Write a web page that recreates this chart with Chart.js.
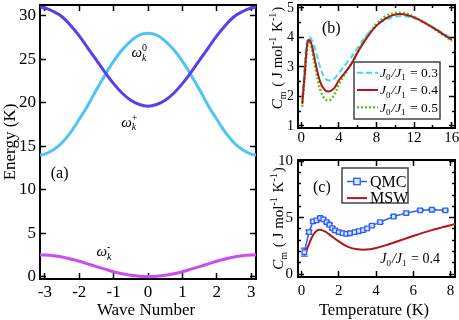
<!DOCTYPE html>
<html>
<head>
<meta charset="utf-8">
<title>Magnon dispersion and specific heat</title>
<script src="https://cdn.jsdelivr.net/npm/chart.js@4.4.1/dist/chart.umd.min.js"></script>
<style>
  html, body { margin: 0; padding: 0; background: #fff; }
  #wrap { position: relative; width: 459px; height: 320px; overflow: hidden; }
  canvas { position: absolute; }
</style>
</head>
<body>
<div id="wrap">
  <canvas id="chartA" width="262" height="320" style="left:0;top:0"></canvas>
  <canvas id="chartB" width="201" height="150" style="left:258px;top:0"></canvas>
  <canvas id="chartC" width="201" height="170" style="left:258px;top:150px"></canvas>
</div>
<script>
// ---- (a) dispersion ----
const waveK = [-3.1416, -3, -2.75, -2.5, -2.25, -2, -1.75, -1.5, -1.25, -1, -0.75, -0.5, -0.25, 0,
  0.25, 0.5, 0.75, 1, 1.25, 1.5, 1.75, 2, 2.25, 2.5, 2.75, 3, 3.1416];
const omegaZero = [14.0, 14.1, 14.6, 15.4, 16.6, 18.1, 19.7, 21.5, 23.2, 24.8, 26.1, 27.1, 27.8, 28.0,
  27.8, 27.1, 26.1, 24.8, 23.2, 21.5, 19.7, 18.1, 16.6, 15.4, 14.6, 14.1, 14.0];
const omegaPlus = [31.0, 30.9, 30.5, 29.9, 28.9, 27.7, 26.3, 24.9, 23.5, 22.2, 21.1, 20.3, 19.8, 19.6,
  19.8, 20.3, 21.1, 22.2, 23.5, 24.9, 26.3, 27.7, 28.9, 29.9, 30.5, 30.9, 31.0];
const omegaMinus = [2.5, 2.49, 2.4, 2.25, 2.03, 1.77, 1.47, 1.16, 0.86, 0.57, 0.34, 0.15, 0.04, 0.0,
  0.04, 0.15, 0.34, 0.57, 0.86, 1.16, 1.47, 1.77, 2.03, 2.25, 2.4, 2.49, 2.5];

// ---- (b) Cm for three J0/J1 ----
const tempB = [0.1, 0.4, 0.6, 0.8, 1.0, 1.25, 1.5, 2.0, 2.5, 3.0, 3.5, 4.0, 5.0, 5.5, 6.0, 7.0, 8.0,
  9.0, 10.0, 11.0, 12.0, 13.0, 14.0, 15.0, 16.0];
const cmJ03 = [1.9, 3.2, 3.85, 4.0, 3.98, 3.82, 3.58, 3.0, 2.62, 2.54, 2.6, 2.8, 3.2, 3.42, 3.65, 4.1, 4.4,
  4.6, 4.7, 4.72, 4.65, 4.52, 4.35, 4.16, 3.97];
const cmJ04 = [1.75, 2.9, 3.7, 3.92, 3.85, 3.55, 3.15, 2.5, 2.22, 2.17, 2.28, 2.55, 2.95, 3.2, 3.5, 4.0, 4.4,
  4.65, 4.78, 4.78, 4.68, 4.52, 4.33, 4.13, 3.92];
const cmJ05 = [1.65, 2.75, 3.6, 3.88, 3.78, 3.4, 2.95, 2.25, 1.92, 1.87, 2.05, 2.4, 2.95, 3.2, 3.5, 4.05, 4.45,
  4.72, 4.83, 4.82, 4.7, 4.52, 4.32, 4.1, 3.88];

// ---- (c) QMC vs MSW at J0/J1 = 0.4 ----
const tempQMC = [0.15, 0.4, 0.62, 0.8, 1.0, 1.17, 1.35, 1.5, 1.65, 1.8, 2.0, 2.2, 2.4, 2.6, 2.85, 3.07,
  3.3, 3.52, 3.78, 4.22, 4.94, 5.62, 6.37, 7.0, 7.72];
const cmQMC = [1.95, 3.72, 4.67, 4.76, 4.97, 4.85, 4.6, 4.37, 4.08, 3.87, 3.72, 3.63, 3.57, 3.62, 3.72, 3.8,
  3.9, 4.05, 4.3, 4.6, 5.1, 5.4, 5.65, 5.7, 5.65];
const errQMC = [0.35, 0.15, 0.12, 0.12, 0.12, 0.1, 0.1, 0.1, 0.1, 0.1, 0.1, 0.1, 0.1, 0.1, 0.1, 0.1,
  0.1, 0.1, 0.1, 0.1, 0.1, 0.1, 0.1, 0.1, 0.1];
const tempMSW = [0.2, 0.4, 0.6, 0.8, 1.0, 1.25, 1.5, 2.0, 2.5, 3.0, 3.5, 4.0, 4.5, 5.0, 5.5, 6.0, 6.5,
  7.0, 7.5, 8.0, 8.25];
const cmMSW = [1.8, 2.65, 3.4, 3.82, 3.92, 3.78, 3.5, 2.9, 2.42, 2.2, 2.18, 2.32, 2.55, 2.82, 3.1, 3.38, 3.65,
  3.9, 4.12, 4.33, 4.45];

// tick positions
const ticksK = [-3, -2, -1, 0, 1, 2, 3];
const ticksE = [0, 5, 10, 15, 20, 25, 30];
const ticksTb = [0, 4, 8, 12, 16];
const minorTb = [2, 6, 10, 14];
const ticksCb = [1, 2, 3, 4, 5];
const minorCb = [1.5, 2.5, 3.5, 4.5];
const ticksTc = [0, 2, 4, 6, 8];
const ticksCc = [0, 5, 10];
const minorCc = [1, 2, 3, 4, 6, 7, 8, 9];

const SERIF = '"Liberation Serif", "Times New Roman", serif';

function font(size, italic) {
  return (italic ? 'italic ' : '') + size + 'px ' + SERIF;
}

// text with sub/superscripts; parts are strings or {t,i} / {sub} / {sup} / {lo,hi}
function richText(ctx, x, y, parts, size, opts = {}) {
  const sm = Math.round(size * 0.65);
  const segs = parts.map(p => {
    if (typeof p === 'string') p = { t: p };
    let w;
    if (p.t != null) {
      ctx.font = font(size, p.i);
      w = ctx.measureText(p.t).width;
    } else {
      const bits = [p.lo, p.hi, p.sub, p.sup].filter(v => v != null);
      ctx.font = font(sm, false);
      w = Math.max(...bits.map(b => ctx.measureText(b).width)) + 1;
    }
    return { p, w };
  });
  const total = segs.reduce((a, s) => a + s.w, 0);
  ctx.save();
  ctx.translate(x, y);
  if (opts.rot) ctx.rotate(opts.rot);
  ctx.fillStyle = '#000';
  ctx.textAlign = 'left';
  ctx.textBaseline = 'alphabetic';
  let cx = opts.align === 'left' ? 0 : -total / 2;
  const base = size * 0.33;
  segs.forEach(({ p, w }) => {
    if (p.t != null) {
      ctx.font = font(size, p.i);
      ctx.fillText(p.t, cx, base);
    } else {
      const lo = p.lo != null ? p.lo : p.sub;
      const hi = p.hi != null ? p.hi : p.sup;
      if (lo != null) {
        ctx.font = font(sm, p.lo != null);
        ctx.fillText(lo, cx, base + size * 0.24);
      }
      if (hi != null) {
        ctx.font = font(sm, false);
        ctx.fillText(hi, cx, base - size * 0.42);
      }
    }
    cx += w;
  });
  ctx.restore();
}

// one side of a frame: inward ticks at given values, labels optional
function axis(pos, min, max, vals, o = {}) {
  const horiz = pos === 'top' || pos === 'bottom';
  return {
    type: 'linear', position: pos, min, max, weight: o.weight || 0,
    afterBuildTicks: s => { s.ticks = vals.map(v => ({ value: v })); },
    afterFit: s => {
      if (horiz) s.height = o.size || 0; else s.width = o.size || 0;
      // no automatic padding for overhanging labels
      s.paddingTop = s.paddingBottom = s.paddingLeft = s.paddingRight = 0;
    },
    grid: { drawOnChartArea: false, drawTicks: true, tickLength: -(o.len || 6), tickWidth: 1.5, tickColor: '#000' },
    border: { display: o.border !== false, color: '#000', width: 2 },
    ticks: {
      display: !!o.fontSize, color: '#000', padding: o.pad || 0, autoSkip: false, maxRotation: 0,
      font: { family: SERIF, size: o.fontSize || 12 },
      callback: v => String(v)
    }
  };
}

function points(xs, ys) {
  return xs.map((x, i) => ({ x, y: ys[i] }));
}

function baseOptions(padding, scales) {
  return {
    responsive: false, animation: false, devicePixelRatio: 1,
    layout: { padding, autoPadding: false },
    elements: { point: { radius: 0 }, line: { tension: 0.4, fill: false } },
    plugins: { legend: { display: false }, tooltip: { enabled: false } },
    scales
  };
}

function drawLegend(ctx, box, rows, size) {
  ctx.save();
  ctx.fillStyle = '#fff';
  ctx.fillRect(box.x, box.y, box.w, box.h);
  ctx.strokeStyle = '#444';
  ctx.lineWidth = 1.5;
  ctx.strokeRect(box.x, box.y, box.w, box.h);
  rows.forEach((r, i) => {
    const ds = r.ds;
    const yy = box.y + box.first + i * box.gap;
    ctx.strokeStyle = ds.borderColor;
    ctx.lineWidth = ds.borderWidth;
    ctx.setLineDash(ds.borderDash || []);
    ctx.beginPath();
    ctx.moveTo(box.x + box.s0, yy);
    ctx.lineTo(box.x + box.s1, yy);
    ctx.stroke();
    ctx.setLineDash([]);
    if (ds.pointStyle === 'rect') {
      const mx = box.x + (box.s0 + box.s1) / 2, r0 = ds.pointRadius;
      ctx.fillStyle = ds.pointBackgroundColor;
      ctx.lineWidth = ds.pointBorderWidth;
      ctx.fillRect(mx - r0, yy - r0, 2 * r0, 2 * r0);
      ctx.strokeRect(mx - r0, yy - r0, 2 * r0, 2 * r0);
    }
    richText(ctx, box.x + box.tx, yy, r.label, size, { align: 'left' });
  });
  ctx.restore();
}

const cmTitle = [{ t: 'C', i: true }, { sub: 'm' }, ' ( J mol', { sup: '-1' }, ' K', { sup: '-1' }, ')'];
const jRatio = v => [{ t: 'J', i: true }, { sub: '0' }, { t: '/', i: true }, { t: 'J', i: true }, { sub: '1' }, ' = ' + v];

// ---------- panel (a) ----------
new Chart(document.getElementById('chartA'), {
  type: 'line',
  data: {
    datasets: [
      { data: points(waveK, omegaPlus), borderColor: '#5a3df0', borderWidth: 3 },
      { data: points(waveK, omegaZero), borderColor: '#4ec4f6', borderWidth: 3 },
      { data: points(waveK, omegaMinus), borderColor: '#c94df0', borderWidth: 3 }
    ]
  },
  options: baseOptions({ top: 5, right: 6, left: 0, bottom: 0 }, {
    x: axis('bottom', -3.1416, 3.1416, ticksK, { size: 41, len: 6, fontSize: 17, pad: 9 }),
    y: axis('left', -0.27, 31.25, ticksE, { size: 40, len: 6, fontSize: 17, pad: 10 }),
    x2: axis('top', -3.1416, 3.1416, ticksK, { len: 6 }),
    y2: axis('right', -0.27, 31.25, ticksE, { len: 6 })
  }),
  plugins: [{
    id: 'labelsA',
    afterDraw(chart) {
      const ctx = chart.ctx, { x, y } = chart.scales, a = chart.chartArea;
      richText(ctx, x.getPixelForValue(-0.24), y.getPixelForValue(25.8), [{ t: 'ω', i: true }, { lo: 'k', hi: '0' }], 15);
      richText(ctx, x.getPixelForValue(-0.53), y.getPixelForValue(17.8), [{ t: 'ω', i: true }, { lo: 'k', hi: '+' }], 15);
      richText(ctx, x.getPixelForValue(-1.26), y.getPixelForValue(2.9), [{ t: 'ω', i: true }, { lo: 'k', hi: '-' }], 15);
      richText(ctx, x.getPixelForValue(-2.57), y.getPixelForValue(12.0), ['(a)'], 16);
      richText(ctx, 9, (a.top + a.bottom) / 2, ['Energy (K)'], 17, { rot: -Math.PI / 2 });
      richText(ctx, 146, 309, ['Wave Number'], 17);
    }
  }]
});

// ---------- panel (b) ----------
const dsB03 = { data: points(tempB, cmJ03), borderColor: '#3fdcea', borderWidth: 2, borderDash: [6, 3] };
const dsB04 = { data: points(tempB, cmJ04), borderColor: '#b3161a', borderWidth: 2 };
const dsB05 = { data: points(tempB, cmJ05), borderColor: '#55cc22', borderWidth: 2.5, borderDash: [2, 2] };

new Chart(document.getElementById('chartB'), {
  type: 'line',
  data: { datasets: [dsB04, dsB03, dsB05] },
  options: baseOptions({ top: 5, right: 4, left: 0, bottom: 0 }, {
    x: axis('bottom', -0.35, 16.35, ticksTb, { size: 22, len: 6, fontSize: 15, pad: 7, weight: 1 }),
    xm: axis('bottom', -0.35, 16.35, minorTb, { len: 3, border: false }),
    y: axis('left', 0.93, 5.1, ticksCb, { size: 40, len: 6, fontSize: 14, pad: 10, weight: 1 }),
    ym: axis('left', 0.93, 5.1, minorCb, { len: 3, border: false }),
    x2: axis('top', -0.35, 16.35, ticksTb, { len: 6 }),
    x2m: axis('top', -0.35, 16.35, minorTb, { len: 3, border: false }),
    y2: axis('right', 0.93, 5.1, ticksCb, { len: 6 }),
    y2m: axis('right', 0.93, 5.1, minorCb, { len: 3, border: false })
  }),
  plugins: [{
    id: 'labelsB',
    afterDraw(chart) {
      const ctx = chart.ctx, { x, y } = chart.scales;
      richText(ctx, x.getPixelForValue(3.2), y.getPixelForValue(4.32), ['(b)'], 16);
      richText(ctx, 19, 58, cmTitle, 15, { rot: -Math.PI / 2 });
      drawLegend(ctx, { x: 96, y: 62, w: 86, h: 57, first: 10.7, gap: 17.3, s0: 3, s1: 24, tx: 26 }, [
        { ds: dsB03, label: jRatio('0.3') },
        { ds: dsB04, label: jRatio('0.4') },
        { ds: dsB05, label: jRatio('0.5') }
      ], 13.5);
    }
  }]
});

// ---------- panel (c) ----------
const dsQMC = {
  data: points(tempQMC, cmQMC), borderColor: '#2a5cff', borderWidth: 1.5, tension: 0,
  pointStyle: 'rect', pointRadius: 3.2, pointBorderWidth: 1.3, pointBorderColor: '#2a5cff',
  pointBackgroundColor: '#dfe7ff'
};
const dsMSW = { data: points(tempMSW, cmMSW), borderColor: '#b3161a', borderWidth: 2 };

new Chart(document.getElementById('chartC'), {
  type: 'line',
  data: { datasets: [dsQMC, dsMSW] },
  options: baseOptions({ top: 10, right: 4, left: 0, bottom: 0 }, {
    x: axis('bottom', -0.19, 8.24, ticksTc, { size: 43, len: 6, fontSize: 15, pad: 11 }),
    y: axis('left', -0.25, 10.1, ticksCc, { size: 40, len: 6, fontSize: 15, pad: 11, weight: 1 }),
    ym: axis('left', -0.25, 10.1, minorCc, { len: 3, border: false }),
    x2: axis('top', -0.19, 8.24, ticksTc, { len: 6 }),
    y2: axis('right', -0.25, 10.1, ticksCc, { len: 6 }),
    y2m: axis('right', -0.25, 10.1, minorCc, { len: 3, border: false })
  }),
  plugins: [{
    id: 'errorBars',
    beforeDatasetsDraw(chart) {
      const ctx = chart.ctx, { x, y } = chart.scales;
      ctx.save();
      ctx.strokeStyle = '#2a5cff';
      ctx.lineWidth = 1.2;
      tempQMC.forEach((t, i) => {
        const px = x.getPixelForValue(t);
        const lo = y.getPixelForValue(cmQMC[i] - errQMC[i]);
        const hi = y.getPixelForValue(cmQMC[i] + errQMC[i]);
        ctx.beginPath();
        ctx.moveTo(px, lo); ctx.lineTo(px, hi);
        ctx.moveTo(px - 3.5, lo); ctx.lineTo(px + 3.5, lo);
        ctx.moveTo(px - 3.5, hi); ctx.lineTo(px + 3.5, hi);
        ctx.stroke();
      });
      ctx.restore();
    }
  }, {
    id: 'labelsC',
    afterDraw(chart) {
      const ctx = chart.ctx, { x, y } = chart.scales, a = chart.chartArea;
      richText(ctx, x.getPixelForValue(1.09), y.getPixelForValue(7.73), ['(c)'], 16);
      richText(ctx, x.getPixelForValue(5.83), y.getPixelForValue(1.39), jRatio('0.4'), 14);
      richText(ctx, 20, (a.top + a.bottom) / 2, cmTitle, 15, { rot: -Math.PI / 2 });
      richText(ctx, 116, 160, ['Temperature (K)'], 16.5);
      drawLegend(ctx, { x: 84, y: 18, w: 66, h: 35, first: 13.5, gap: 16.6, s0: 5, s1: 25, tx: 28 }, [
        { ds: dsQMC, label: ['QMC'] },
        { ds: dsMSW, label: ['MSW'] }
      ], 16);
    }
  }]
});
</script>
</body>
</html>
